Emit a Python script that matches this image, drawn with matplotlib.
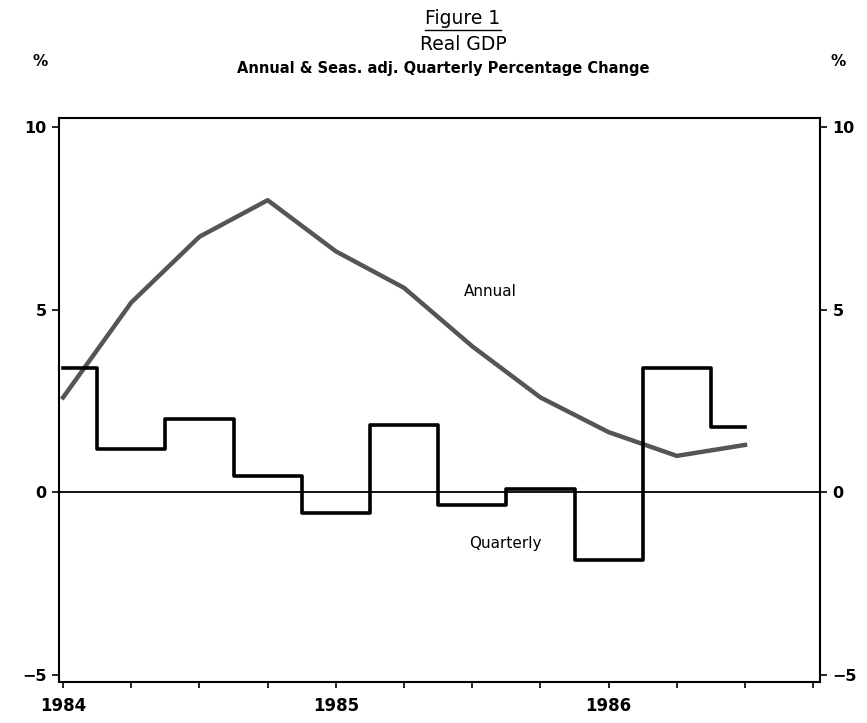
import matplotlib
matplotlib.use("Agg")
import matplotlib.pyplot as plt
from matplotlib.lines import Line2D

# ---- data ----
quarters = [1984.00, 1984.25, 1984.50, 1984.75, 1985.00, 1985.25, 1985.50,
            1985.75, 1986.00, 1986.25, 1986.50]
annual = [2.6, 5.2, 7.0, 8.0, 6.6, 5.6, 4.0, 2.6, 1.65, 1.0, 1.3]
quarterly = [3.4, 1.2, 2.0, 0.45, -0.55, 1.85, -0.35, 0.1, -1.85, 3.4, 1.8]
xtick_pos = [1984 + 0.25 * i for i in range(12)]
xtick_labels = ["1984", "", "", "", "1985", "", "", "", "1986", "", "", ""]
ytick_pos = [-5, 0, 5, 10]
ytick_labels = ["\u22125", "0", "5", "10"]

plt.rcParams['font.family'] = ['DejaVu Sans']

fig = plt.figure(figsize=(8.67, 7.23), dpi=100)
ax = fig.add_axes([59 / 867, 1 - 682 / 723, (820 - 59) / 867, (682 - 118) / 723])

ax.plot(quarters, annual, color='#555555', lw=3.2, solid_joinstyle='round', zorder=3)
ax.step(quarters, quarterly, where='mid', color='black', lw=2.6, zorder=4)
ax.axhline(0, color='black', lw=1.3, zorder=2)

ax.set_xlim(1983.985, 1986.775)
ax.set_ylim(-5.19, 10.25)

ax.set_xticks(xtick_pos)
ax.set_xticklabels(xtick_labels, fontsize=12, fontweight='bold')
ax.set_yticks(ytick_pos)
ax.set_yticklabels(ytick_labels, fontsize=11.5, fontweight='bold')
ax.tick_params(axis='x', direction='out', length=4, width=1.2, pad=7)
ax.tick_params(axis='y', direction='out', length=5, width=1.2, right=True,
               labelright=True, pad=4)
for lab in ax.get_yticklabels(which='both'):
    lab.set_fontweight('bold')
for s in ax.spines.values():
    s.set_linewidth(1.5)

ax.text(1985.565, 5.5, "Annual", fontsize=11, ha='center', va='center')
ax.text(1985.62, -1.4, "Quarterly", fontsize=11, ha='center', va='center')

# titles
t1 = fig.text(463 / 867, 1 - 19 / 723, "Figure 1", fontsize=13.5, ha='center', va='center')
fig.text(463 / 867, 1 - 44 / 723, "Real GDP", fontsize=13.5, ha='center', va='center')
fig.text(443 / 867, 1 - 69 / 723, "Annual & Seas. adj. Quarterly Percentage Change",
         fontsize=10.5, ha='center', va='center', weight='bold')
fig.text(40 / 867, 1 - 62 / 723, "%", fontsize=11, ha='center', va='center', weight='bold')
fig.text(838 / 867, 1 - 62 / 723, "%", fontsize=11, ha='center', va='center', weight='bold')

fig.canvas.draw()
bb = t1.get_window_extent().transformed(fig.transFigure.inverted())
fig.add_artist(Line2D([bb.x0, bb.x1], [bb.y0 - 0.002, bb.y0 - 0.002],
                      transform=fig.transFigure, color='black', lw=1.0))

fig.savefig("out.png", dpi=100)
